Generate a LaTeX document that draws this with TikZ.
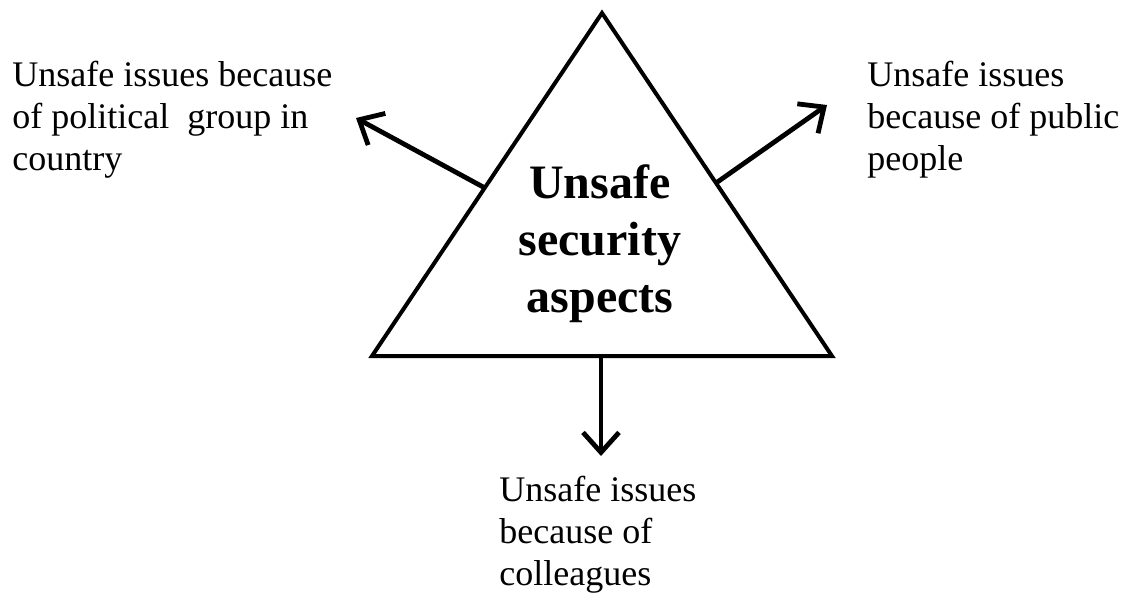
\documentclass[tikz,border=0pt]{standalone}
\usepackage{fontspec}
\setmainfont{Liberation Serif}
\usetikzlibrary{arrows.meta}

\begin{document}
\begin{tikzpicture}[x=0.5pt, y=-0.5pt,
    issue/.style={inner sep=0pt, align=left, anchor=base west,
      font=\fontsize{18pt}{21pt}\selectfont},
    pointer/.style={line width=2.4pt, -{Straight Barb[length=10pt, width=18pt]}}]
                \useasboundingbox (0,0) rectangle (1126,595);

                % Triangle
                \coordinate (apex) at (602,13);
                \coordinate (baseL) at (372,356);
                \coordinate (baseR) at (832,356);
                \draw[line width=2pt, line join=miter] (apex) -- (baseL) -- (baseR) -- cycle;
                \node[inner sep=0pt, align=center, anchor=base,
                  font=\fontsize{24pt}{28.5pt}\selectfont\bfseries] (core) at (600,312)
                  {Unsafe\\security\\aspects};

                % Issues (anchored at the baseline of the last line)
                \node[issue] (political) at (12,170) {Unsafe issues because\\of political~ group in\\country};
                \node[issue] (public) at (867,170) {Unsafe issues\\because of public\\people};
                \node[issue] (colleagues) at (499,585) {Unsafe issues\\because of\\colleagues};

                % Arrows
                \coordinate (edgeL) at (485,188);
                \coordinate (edgeR) at (716,183);
                \coordinate (edgeB) at (601,356);
                \coordinate (tipL) at (356,118);
                \coordinate (tipR) at (827,105);
                \coordinate (tipB) at (601,456);
                \draw[pointer] (edgeL) -- (tipL);
                \draw[pointer] (edgeR) -- (tipR);
                \draw[pointer] (edgeB) -- (tipB);
            \end{tikzpicture}
\end{document}
